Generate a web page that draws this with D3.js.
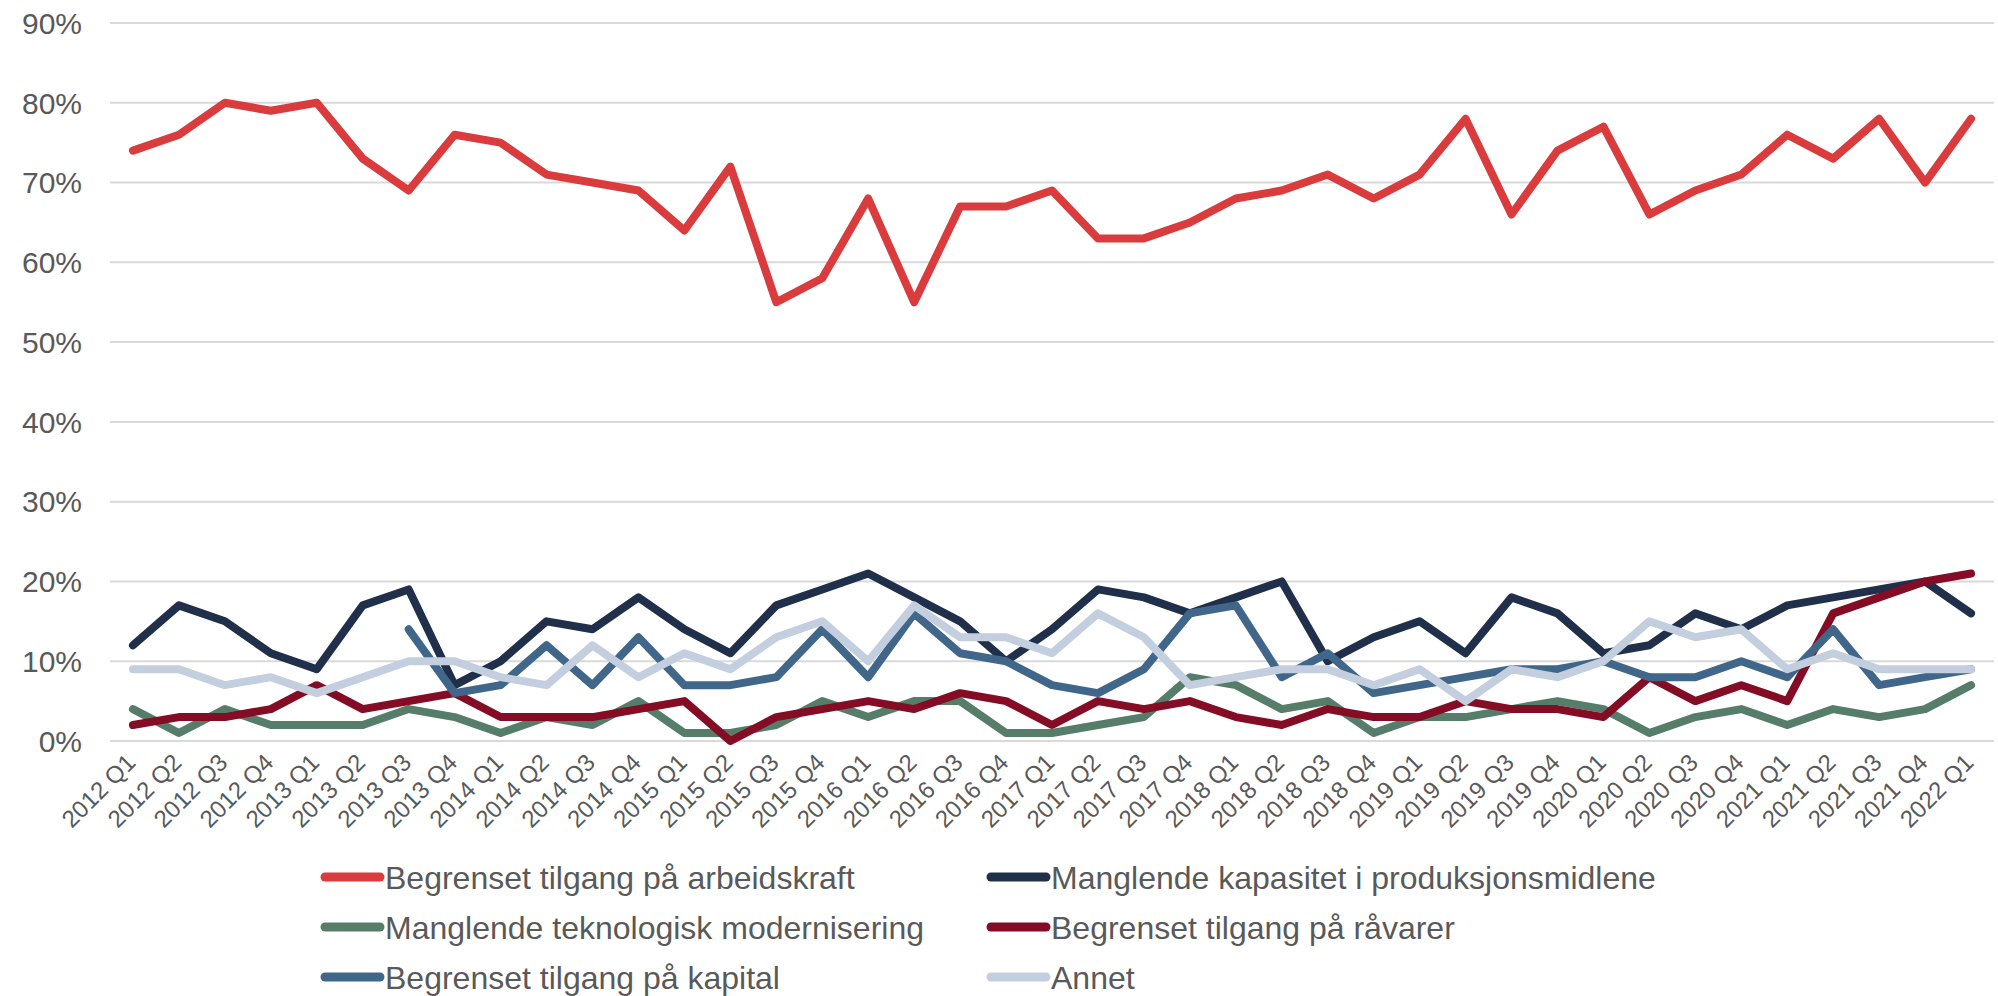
<!DOCTYPE html>
<html>
<head>
<meta charset="utf-8">
<script src="https://cdnjs.cloudflare.com/ajax/libs/d3/7.8.5/d3.min.js"></script>
<style>
body { margin: 0; background: #fff; }
svg { font-family: "Liberation Sans", Arial, sans-serif; }
</style>
</head>
<body>
<svg id="chart"></svg>
<script>
var width = 1998, height = 996

// kvartaler 2012 Q1 - 2022 Q1
var quarters = []
for (var yr = 2012; yr <= 2022; yr++) {
    for (var q = 1; q <= 4; q++) {
        if (yr == 2022 && q > 1) break
        quarters.push(yr + " Q" + q)
    }
}

var yTicks = [0, 10, 20, 30, 40, 50, 60, 70, 80, 90]

var arbeidskraft = [74,76,80,79,80,73,69,76,75,71,70,69,64,72,55,58,68,55,67,67,69,63,63,65,68,69,71,68,71,78,66,74,77,66,69,71,76,73,78,70,78]
var kapasitet = [12,17,15,11,9,17,19,7,10,15,14,18,14,11,17,19,21,18,15,10,14,19,18,16,18,20,10,13,15,11,18,16,11,12,16,14,17,18,19,20,16]
var teknologi = [4,1,4,2,2,2,4,3,1,3,2,5,1,1,2,5,3,5,5,1,1,2,3,8,7,4,5,1,3,3,4,5,4,1,3,4,2,4,3,4,7]
var raavarer = [2,3,3,4,7,4,5,6,3,3,3,4,5,0,3,4,5,4,6,5,2,5,4,5,3,2,4,3,3,5,4,4,3,8,5,7,5,16,18,20,21]
var kapital = [null,null,null,null,null,null,14,6,7,12,7,13,7,7,8,14,8,16,11,10,7,6,9,16,17,8,11,6,7,8,9,9,10,8,8,10,8,14,7,8,9]
var annet = [9,9,7,8,6,8,10,10,8,7,12,8,11,9,13,15,10,17,13,13,11,16,13,7,8,9,9,7,9,5,9,8,10,15,13,14,9,11,9,9,9]

var names = [
    "Begrenset tilgang på arbeidskraft",
    "Manglende kapasitet i produksjonsmidlene",
    "Manglende teknologisk modernisering",
    "Begrenset tilgang på råvarer",
    "Begrenset tilgang på kapital",
    "Annet"
]
var colors = ["#da3b3c", "#202f4a", "#557d69", "#840c25", "#40678a", "#c3cede"]

var series = [arbeidskraft, kapasitet, teknologi, raavarer, kapital, annet].map(function (v, i) {
    return { name: names[i], color: colors[i], values: v }
})

var svg = d3.select("#chart")
    .attr("width", width)
    .attr("height", height)

var plotLeft = 110, plotRight = 1994, plotTop = 23, plotBottom = 741

var x = d3.scalePoint()
    .domain(quarters)
    .range([plotLeft, plotRight])
    .padding(0.5)

var y = d3.scaleLinear()
    .domain([0, 90])
    .range([plotBottom, plotTop])

// gridlines
svg.append("g")
    .selectAll("line")
    .data(yTicks)
    .enter()
    .append("line")
    .attr("x1", plotLeft)
    .attr("x2", plotRight)
    .attr("y1", d => y(d))
    .attr("y2", d => y(d))
    .attr("stroke", "#d9d9d9")
    .attr("stroke-width", 2)

// y-akse
svg.append("g")
    .selectAll("text")
    .data(yTicks)
    .enter()
    .append("text")
    .attr("x", 82)
    .attr("y", d => y(d))
    .attr("dy", "0.36em")
    .attr("text-anchor", "end")
    .attr("fill", "#595959")
    .style("font-size", "30px")
    .text(d => d + "%")

// x-akse
svg.append("g")
    .selectAll("text")
    .data(quarters)
    .enter()
    .append("text")
    .attr("transform", d => "translate(" + (x(d) + 4) + ",764) rotate(-45)")
    .attr("text-anchor", "end")
    .attr("fill", "#595959")
    .style("font-size", "24px")
    .text(d => d)

var line = d3.line()
    .defined(d => d != null)
    .x((d, i) => x(quarters[i]))
    .y(d => y(d))

svg.append("g")
    .selectAll("path")
    .data(series)
    .enter()
    .append("path")
    .attr("d", d => line(d.values))
    .attr("fill", "none")
    .attr("stroke", d => d.color)
    .attr("stroke-width", 8)
    .attr("stroke-linejoin", "round")
    .attr("stroke-linecap", "round")

// legend
var legend = svg.append("g")
    .selectAll("g")
    .data(series)
    .enter()
    .append("g")
    .attr("transform", (d, i) => "translate(" + (i % 2 == 0 ? 325 : 991) + "," + (877 + Math.floor(i / 2) * 50) + ")")

legend.append("line")
    .attr("x1", 0)
    .attr("x2", 55)
    .attr("stroke", d => d.color)
    .attr("stroke-width", 9)
    .attr("stroke-linecap", "round")

legend.append("text")
    .attr("x", 60)
    .attr("dy", "0.36em")
    .attr("fill", "#595959")
    .style("font-size", "32px")
    .text(d => d.name)
</script>
</body>
</html>
